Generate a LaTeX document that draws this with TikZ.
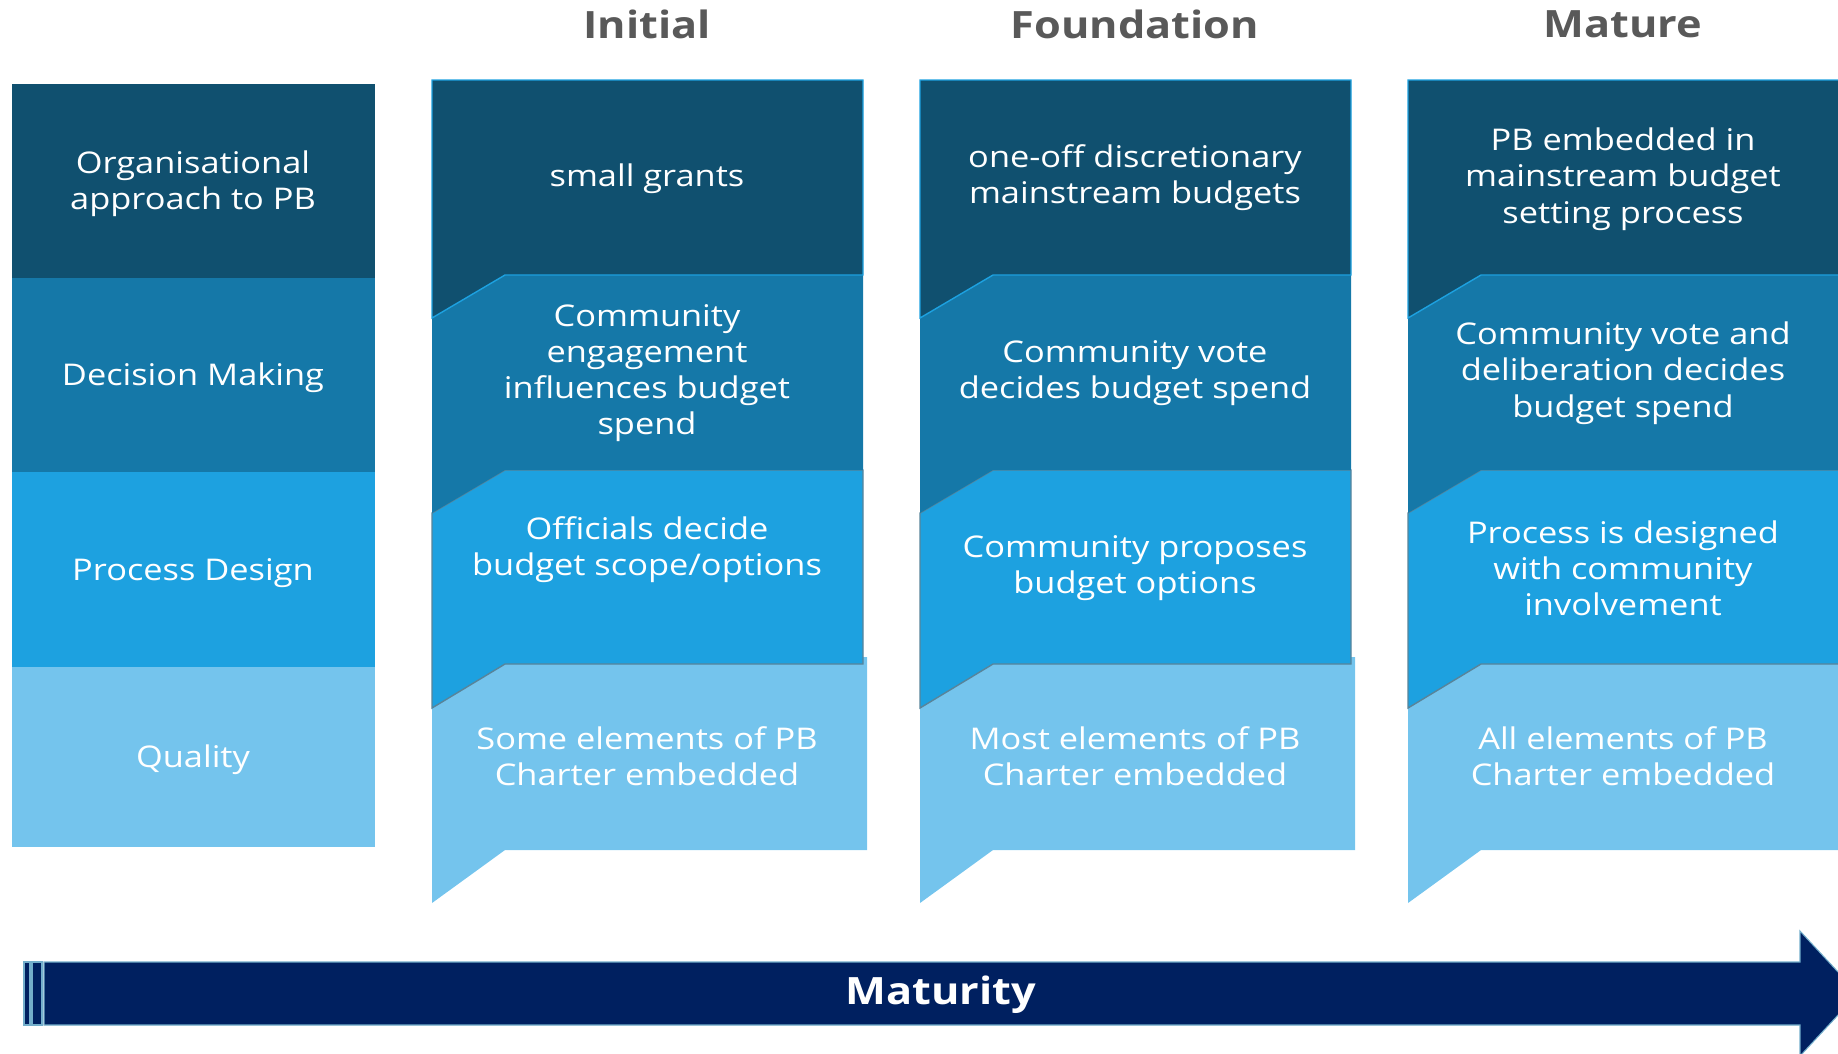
\documentclass[tikz,border=0pt]{standalone}
\usepackage{fontspec}
\setmainfont{Open Sans}[FakeStretch=1.15]
\usepackage{xcolor}
\usetikzlibrary{positioning, calc}

\definecolor{bandA}{HTML}{10506F}
\definecolor{bandB}{HTML}{1578A8}
\definecolor{bandC}{HTML}{1DA1E0}
\definecolor{bandD}{HTML}{74C4ED}
\definecolor{arrowblue}{HTML}{002060}
\definecolor{headgray}{HTML}{595959}

\tikzset{
  cell/.style={font=\fontsize{8.5}{10.3}\selectfont, text=white, align=center, inner sep=0pt},
  head/.style={font=\fontsize{10.7}{12}\selectfont\bfseries, text=headgray, inner sep=0pt},
}

\begin{document}
\begin{tikzpicture}[x=0.01cm, y=-0.01cm]
    \clip (0,0) rectangle (1838,1053);

    % Left column (row labels)
    \fill[bandA] (12,84) rectangle (375,278);
    \fill[bandB] (12,278) rectangle (375,472);
    \fill[bandC] (12,472) rectangle (375,667);
    \fill[bandD] (12,667) rectangle (375,847);
    \node[cell] (lblorg) at (193,184) {Organisational\\approach to PB};
    \node[cell] (lbldec) at (193,378) {Decision Making};
    \node[cell] (lblproc) at (193,573) {Process Design};
    \node[cell] (lblqual) at (193,760) {Quality};

    % Stage columns, four stacked bands each
    \foreach \L in {432, 920, 1408} {
        \pgfmathsetmacro{\R}{\L+431}
        \pgfmathsetmacro{\N}{\L+73}
        \fill[bandD] (\L,708) -- (\N,657) -- ({\R+4},657) -- ({\R+4},850) -- (\N,850) -- (\L,903) -- cycle;
        \draw[fill=bandC, draw=bandA!70, line width=0.4pt] (\L,513) -- (\N,470) -- (\R,470) -- (\R,664) -- (\N,664) -- (\L,708) -- cycle;
        \fill[bandB] (\L,318) -- (\N,275) -- (\R,275) -- (\R,470) -- (\N,470) -- (\L,513) -- cycle;
        \draw[fill=bandA, draw=bandC, line width=0.4pt] (\L,80) -- (\R,80) -- (\R,275) -- (\N,275) -- (\L,318) -- cycle;
    }

    % Stage headings
    \node[head] (initial) at (647,24) {Initial};
    \node[head] (foundation) at (1135,24) {Foundation};
    \node[head] (mature) at (1623,24) {Mature};

    % Initial
    \node[cell] (init1) at (647,179) {small grants};
    \node[cell] (init2) at (647,373) {Community\\engagement\\influences budget\\spend};
    \node[cell] (init3) at (647,550) {Officials decide\\budget scope/options};
    \node[cell] (init4) at (647,756) {Some elements of PB\\Charter embedded};

    % Foundation
    \node[cell] (found1) at (1135,178) {one-off discretionary\\mainstream budgets};
    \node[cell] (found2) at (1135,373) {Community vote\\decides budget spend};
    \node[cell] (found3) at (1135,568) {Community proposes\\budget options};
    \node[cell] (found4) at (1135,756) {Most elements of PB\\Charter embedded};

    % Mature
    \node[cell] (mat1) at (1623,179) {PB embedded in\\mainstream budget\\setting process};
    \node[cell] (mat2) at (1623,373) {Community vote and\\deliberation decides\\budget spend};
    \node[cell] (mat3) at (1623,568) {Process is designed\\with community\\involvement};
    \node[cell] (mat4) at (1623,756) {All elements of PB\\Charter embedded};

    % Maturity arrow
    \draw[fill=arrowblue, draw=bandB!60, line width=0.4pt] (24,962) rectangle (30,1025);
    \draw[fill=arrowblue, draw=bandB!60, line width=0.4pt] (32,962) rectangle (42,1025);
    \draw[fill=arrowblue, draw=bandB!60, line width=0.3pt] (44,962) -- (1800,962) -- (1800,931) -- (1858,993.5) -- (1800,1056) -- (1800,1025) -- (44,1025) -- cycle;
    \node[head, text=white] (maturity) at (941,995) {Maturity};
\end{tikzpicture}
\end{document}
